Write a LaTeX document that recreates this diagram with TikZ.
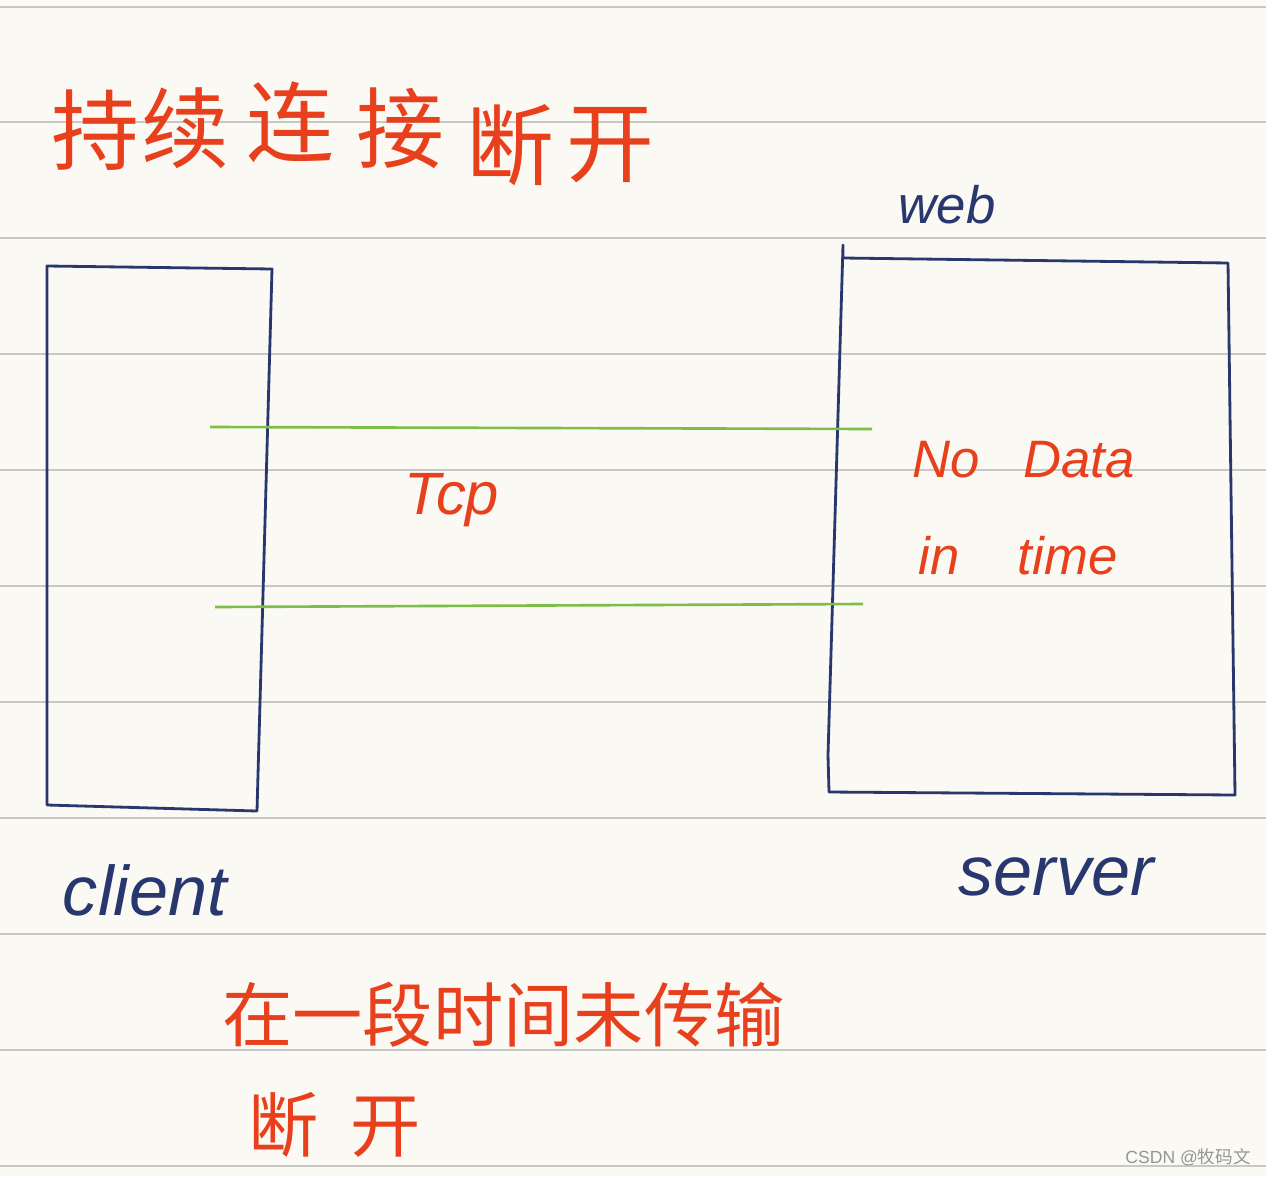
\documentclass[tikz,border=0pt]{standalone}
\usepackage{fontspec}
\setmainfont{Liberation Sans}
\newfontfamily\cjk{Noto Sans CJK SC}
\begin{document}
\begin{tikzpicture}[x=0.02cm,y=-0.02cm,
  paper/.style={fill={rgb,255:red,251;green,249;blue,244}},
  rule/.style={draw={rgb,255:red,200;green,200;blue,196},line width=0.9pt},
  ink/.style={draw={rgb,255:red,40;green,56;blue,110},line width=1.6pt,line join=round},
  conn/.style={draw={rgb,255:red,125;green,190;blue,70},line width=1.5pt},
  redtxt/.style={text={rgb,255:red,232;green,64;blue,28},inner sep=0pt},
  bluetxt/.style={text={rgb,255:red,40;green,56;blue,110},inner sep=0pt},
  cjktxt/.style={redtxt,font=\cjk\fontsize{40}{40}\selectfont}
]
\useasboundingbox (0,0) rectangle (1266,1176);
\fill[paper] (0,0) rectangle (1266,1176);
% ruled lines
\foreach \yy in {7,122,238,354,470,586,702,818,934,1050,1166}
  \draw[rule] (0,\yy) -- (1266,\yy);

% title
\foreach \ch/\xx/\yy in {持/95/130,续/185/128,连/290/122,接/400/128,断/510/145,开/610/145}
  \node[cjktxt,font=\cjk\fontsize{50}{50}\selectfont] (t\xx) at (\xx,\yy) {\ch};

% client box
\coordinate (c1) at (47,266);
\coordinate (c2) at (272,269);
\coordinate (c3) at (257,811);
\coordinate (c4) at (47,805);
\draw[ink] (c1) -- (c2) -- (c3) -- (c4) -- cycle;

% server box
\coordinate (s0) at (843,245);
\coordinate (s1) at (843,258);
\coordinate (s2) at (1228,263);
\coordinate (s3) at (1235,795);
\coordinate (s4) at (829,792);
\coordinate (s5) at (828,755);
\draw[ink] (s0) -- (s1) -- (s2) -- (s3) -- (s4) -- (s5) -- cycle;

% TCP connection lines
\coordinate (a1) at (210,427);
\coordinate (b1) at (872,429);
\coordinate (a2) at (215,607);
\coordinate (b2) at (863,604);
\draw[conn] (a1) -- (b1);
\draw[conn] (a2) -- (b2);

% labels
\node[bluetxt,font=\fontsize{30}{30}\selectfont\itshape] (web) at (947,205) {web};
\node[redtxt,font=\fontsize{34}{34}\selectfont\itshape] (tcp) at (452,500) {Tcp};
\node[redtxt,font=\fontsize{30}{30}\selectfont\itshape,anchor=west] (nodata) at (912,460) {No\ \ \ Data};
\node[redtxt,font=\fontsize{30}{30}\selectfont\itshape,anchor=west] (intime) at (918,556) {in\ \ \ \ time};
\node[bluetxt,font=\fontsize{40}{40}\selectfont\itshape] (client) at (145,890) {client};
\node[bluetxt,font=\fontsize{40}{40}\selectfont\itshape] (server) at (1056,877) {server};

% bottom note
\node[cjktxt,anchor=west] (note1) at (222,1015) {在一段时间未传输};
\node[cjktxt,anchor=west] (note2) at (248,1125) {断\ \ 开};

% watermark
\node[inner sep=0pt,text={rgb,255:red,150;green,150;blue,150},font=\fontsize{10}{10}\selectfont,anchor=east] (wm) at (1251,1157) {CSDN @{\cjk 牧码文}};
\end{tikzpicture}
\end{document}
